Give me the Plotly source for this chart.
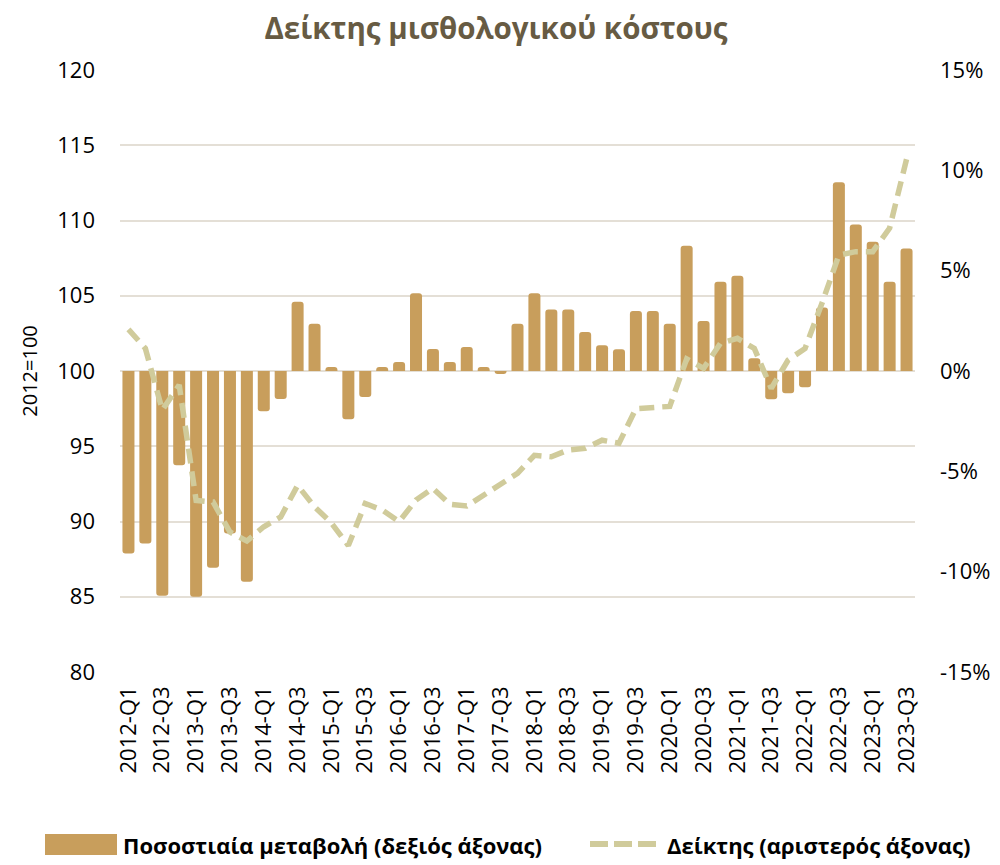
import plotly.graph_objects as go

quarters = [
    "2012-Q1", "2012-Q2", "2012-Q3", "2012-Q4",
    "2013-Q1", "2013-Q2", "2013-Q3", "2013-Q4",
    "2014-Q1", "2014-Q2", "2014-Q3", "2014-Q4",
    "2015-Q1", "2015-Q2", "2015-Q3", "2015-Q4",
    "2016-Q1", "2016-Q2", "2016-Q3", "2016-Q4",
    "2017-Q1", "2017-Q2", "2017-Q3", "2017-Q4",
    "2018-Q1", "2018-Q2", "2018-Q3", "2018-Q4",
    "2019-Q1", "2019-Q2", "2019-Q3", "2019-Q4",
    "2020-Q1", "2020-Q2", "2020-Q3", "2020-Q4",
    "2021-Q1", "2021-Q2", "2021-Q3", "2021-Q4",
    "2022-Q1", "2022-Q2", "2022-Q3", "2022-Q4",
    "2023-Q1", "2023-Q2", "2023-Q3",
]

# Percentage change (right axis, %)
pct_change = [
    -9.1, -8.6, -11.2, -4.7,
    -11.25, -9.8, -8.1, -10.5,
    -2.0, -1.4, 3.45, 2.35,
    0.2, -2.4, -1.3, 0.2,
    0.45, 3.87, 1.1, 0.45,
    1.2, 0.2, -0.15, 2.35,
    3.87, 3.07, 3.07, 1.94,
    1.28, 1.08, 2.99, 2.99,
    2.35, 6.24, 2.49, 4.45,
    4.75, 0.63, -1.41, -1.11,
    -0.81, 3.17, 9.4, 7.3,
    6.44, 4.45, 6.11,
]

# Index (left axis, 2012=100)
index_vals = [
    102.77, 101.5, 97.4, 99.07,
    91.4, 91.3, 89.3, 88.7,
    89.65, 90.3, 92.4, 90.98,
    89.9, 88.4, 91.2, 90.76,
    89.99, 91.43, 92.2, 91.15,
    91.03, 91.76, 92.5, 93.2,
    94.4, 94.3, 94.75, 94.86,
    95.4, 95.2, 97.5, 97.56,
    97.65, 100.8, 100.18, 101.84,
    102.17, 101.5, 98.85, 100.73,
    101.5, 104.5, 107.7, 107.93,
    107.93, 109.5, 114.07,
]

left_ticks = [80, 85, 90, 95, 100, 105, 110, 115, 120]
right_ticks = [-15, -10, -5, 0, 5, 10, 15]
right_ticktext = ["-15%", "-10%", "-5%", "0%", "5%", "10%", "15%"]
x_ticks = quarters[::2]

bar_name = "Ποσοστιαία μεταβολή (δεξιός άξονας)"
line_name = "Δείκτης (αριστερός άξονας)"

bar_color = "#c89e5c"
line_color = "#d0cb9b"
grid_color = "#e4dfd6"
title_color = "#675b43"
font_family = "Open Sans, Noto Sans, sans-serif"

# The page places the figure 8px from the window's top-left corner,
# so the figure is a little smaller than the window.
OFF = 8
W, H = 1000 - OFF, 865 - OFF
L, R, T, B = 120 - OFF, 85, 70 - OFF, 193
pw, ph = W - L - R, H - T - B


def px_x(x):
    # x given in window pixels
    return (x - OFF - L) / pw


def px_y(y):
    # y given in window pixels
    return (H - B - (y - OFF)) / ph


fig = go.Figure()

fig.add_trace(go.Bar(
    x=quarters, y=pct_change,
    name=bar_name,
    marker=dict(color=bar_color, cornerradius=3, line=dict(width=0)),
    yaxis="y",
    showlegend=False,
))

fig.add_trace(go.Scatter(
    x=quarters, y=index_vals,
    name=line_name,
    mode="lines",
    line=dict(color=line_color, width=5.5, dash="15px,8px"),
    yaxis="y2",
    showlegend=False,
))

# Legend (built from shapes + annotations to match the wide swatch)
fig.add_shape(type="rect", xref="paper", yref="paper",
              x0=px_x(45), x1=px_x(117), y0=px_y(855), y1=px_y(834),
              fillcolor=bar_color, line=dict(width=0))
fig.add_annotation(xref="paper", yref="paper", x=px_x(121), y=px_y(844.5),
                   xanchor="left", yanchor="middle", showarrow=False,
                   text="<b>" + bar_name + "</b>",
                   font=dict(size=22, color="black", family=font_family))
fig.add_shape(type="line", xref="paper", yref="paper",
              x0=px_x(590), x1=px_x(656), y0=px_y(844), y1=px_y(844),
              line=dict(color=line_color, width=6, dash="18px,6px"))
fig.add_annotation(xref="paper", yref="paper", x=px_x(665), y=px_y(844.5),
                   xanchor="left", yanchor="middle", showarrow=False,
                   text="<b>" + line_name + "</b>",
                   font=dict(size=22, color="black", family=font_family))

fig.update_layout(
    width=W, height=H,
    margin=dict(l=L, r=R, t=T, b=B, autoexpand=False),
    paper_bgcolor="white", plot_bgcolor="white",
    font=dict(family=font_family, color="black", size=19),
    title=dict(
        text="<b>Δείκτης μισθολογικού κόστους</b>",
        x=(496 - OFF) / W, xanchor="center",
        y=1 - (29 - OFF) / H, yanchor="middle",
        font=dict(size=29.5, color=title_color, family=font_family),
    ),
    bargap=0.29,
    showlegend=False,
    xaxis=dict(
        type="category", automargin=False,
        tickmode="array", tickvals=x_ticks, ticktext=x_ticks,
        tickangle=-90,
        tickfont=dict(size=22),
        showgrid=False, showline=False, ticks="",
        ticklabelstandoff=9,
        range=[-0.5, len(quarters) - 0.5],
    ),
    yaxis=dict(
        side="right", range=[-15, 15], automargin=False,
        tickmode="array", tickvals=right_ticks, ticktext=right_ticktext,
        showgrid=False, zeroline=False, showline=False, ticks="",
        tickfont=dict(size=22),
        ticklabelstandoff=24,
    ),
    yaxis2=dict(
        side="left", overlaying="y", range=[80, 120], automargin=False,
        tickmode="array", tickvals=left_ticks,
        showgrid=True, gridcolor=grid_color, gridwidth=2,
        zeroline=False, showline=False, ticks="",
        tickfont=dict(size=22),
        ticklabelstandoff=24,
        title=dict(text="2012=100", font=dict(size=20), standoff=14),
    ),
)

fig.write_html("out.html")
